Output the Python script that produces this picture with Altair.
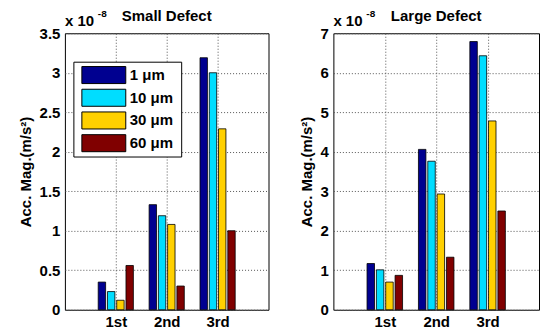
import altair as alt
import pandas as pd

categories = ["1st", "2nd", "3rd"]
sizes = ["1 μm", "10 μm", "30 μm", "60 μm"]
colors = ["#000090", "#00DDFF", "#FFD000", "#800000"]

small_1 = [0.35, 1.33, 3.19]
small_10 = [0.23, 1.19, 3.00]
small_30 = [0.12, 1.08, 2.29]
small_60 = [0.56, 0.30, 1.00]

large_1 = [1.17, 4.06, 6.79]
large_10 = [1.01, 3.76, 6.43]
large_30 = [0.70, 2.93, 4.78]
large_60 = [0.87, 1.33, 2.50]

FONT = "Liberation Sans"
GROUP = 4 / 5.5          # MATLAB grouped-bar group width
STEP = GROUP / 4
BARW = STEP * 0.8
H = 277


def frame(series):
    rows = []
    for j, (size, vals) in enumerate(zip(sizes, series)):
        for i, (cat, v) in enumerate(zip(categories, vals)):
            c = (i + 1) + (j - 1.5) * STEP
            rows.append({"cat": cat, "size": size, "order": j, "v": v,
                         "x0": c - BARW / 2, "x1": c + BARW / 2})
    return pd.DataFrame(rows)


small_df = frame([small_1, small_10, small_30, small_60])
large_df = frame([large_1, large_10, large_30, large_60])
legend_df = pd.DataFrame({"size": sizes})

label_expr = "[" + ",".join("'%s'" % c for c in categories) + "][datum.value - 1]"
color_scale = alt.Scale(domain=sizes, range=colors)


def text_layer(txt, **kw):
    enc = {}
    for k in ("x", "y"):
        enc[k] = alt.value(kw.pop(k))
    return alt.Chart(pd.DataFrame({"t": [txt]})).mark_text(
        font=FONT, fontWeight="bold", color="black", baseline="alphabetic", **kw
    ).encode(text="t:N", **enc)


def panel(df, title, ymax, ystep, legend, w):
    bars = alt.Chart(df).mark_rect(stroke="black", strokeWidth=0.8).encode(
        x=alt.X("x0:Q", scale=alt.Scale(domain=[0, 4], nice=False, zero=False),
                axis=alt.Axis(values=[1, 2, 3], labelExpr=label_expr, title=None,
                              grid=True, gridDash=[1, 2], gridColor="#555",
                              ticks=False, domain=False, labelPadding=5,
                              labelFont=FONT, labelFontSize=15, labelFontWeight="bold",
                              labelColor="black")),
        x2="x1:Q",
        y=alt.Y("v:Q", scale=alt.Scale(domain=[0, ymax], nice=False),
                axis=alt.Axis(values=[k * ystep for k in range(int(round(ymax / ystep)) + 1)],
                              labelExpr="'' + datum.value",
                              title="Acc. Mag.(m/s²)", titleFont=FONT, titleFontSize=15,
                              titleFontWeight="bold", titleColor="black", titlePadding=6,
                              grid=True, gridDash=[1, 2], gridColor="#555",
                              ticks=False, domain=False, labelPadding=5,
                              labelFont=FONT, labelFontSize=15, labelFontWeight="bold",
                              labelColor="black")),
        y2=alt.datum(0),
        color=alt.Color("size:N", scale=color_scale, legend=None),
    )
    layers = [
        bars,
        text_layer(title, x=w / 2, y=-12, align="center", fontSize=15),
        text_layer("x 10", x=0, y=-7, align="left", fontSize=15),
        text_layer("-8", x=33, y=-16, align="left", fontSize=10),
    ]
    if legend:
        ly = alt.Scale(type="band", domain=sizes, range=[30.5, 121.5],
                       paddingInner=0.25, paddingOuter=0.125)
        box = alt.Chart(pd.DataFrame({"b": [1]})).mark_rect(
            fill="white", stroke="black", strokeWidth=1).encode(
            x=alt.value(9), x2=alt.value(117), y=alt.value(29), y2=alt.value(124))
        sw = alt.Chart(legend_df).mark_rect(stroke="black", strokeWidth=1).encode(
            x=alt.value(17), x2=alt.value(61),
            y=alt.Y("size:N", scale=ly, axis=None),
            color=alt.Color("size:N", scale=color_scale, legend=None))
        lab = alt.Chart(legend_df).mark_text(
            align="left", baseline="middle", font=FONT, fontSize=15,
            fontWeight="bold", color="black").encode(
            x=alt.value(65),
            y=alt.Y("size:N", scale=ly, axis=None),
            text="size:N")
        layers += [box, sw, lab]
    ch = alt.layer(*layers).properties(width=w, height=H)
    if legend:
        ch = ch.resolve_scale(y="independent")
    return ch


left = panel(small_df, "Small Defect", 3.5, 0.5, True, 204)
right = panel(large_df, "Large Defect", 7, 1, False, 206)

chart = alt.hconcat(left, right, spacing=29).properties(
    padding={"left": 9, "top": 0, "right": 0, "bottom": 0},
    background="white",
).configure_view(stroke="black", strokeWidth=1)

chart.save("out.html", embed_options={"renderer": "svg", "actions": False})
